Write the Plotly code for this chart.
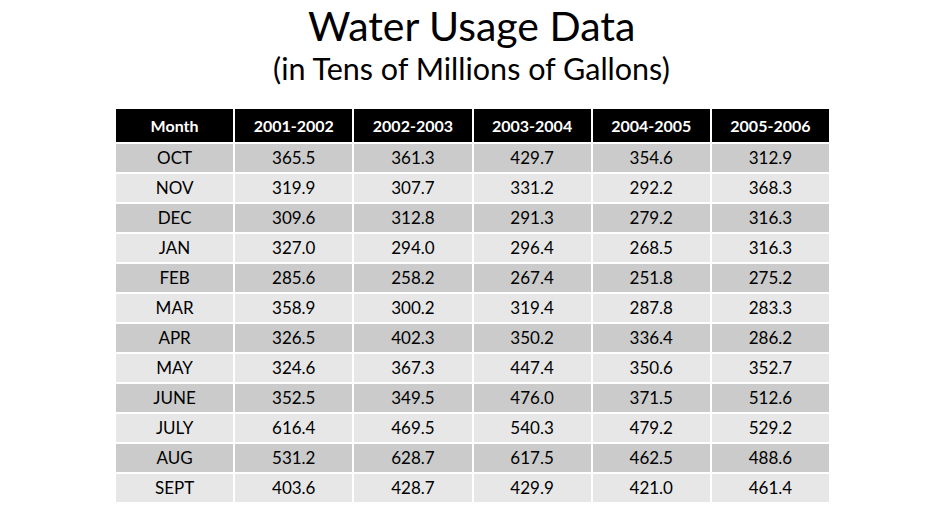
import plotly.graph_objects as go

months = ["OCT", "NOV", "DEC", "JAN", "FEB", "MAR", "APR", "MAY", "JUNE", "JULY", "AUG", "SEPT"]
headers = ["Month", "2001-2002", "2002-2003", "2003-2004", "2004-2005", "2005-2006"]
y2001 = [365.5, 319.9, 309.6, 327.0, 285.6, 358.9, 326.5, 324.6, 352.5, 616.4, 531.2, 403.6]
y2002 = [361.3, 307.7, 312.8, 294.0, 258.2, 300.2, 402.3, 367.3, 349.5, 469.5, 628.7, 428.7]
y2003 = [429.7, 331.2, 291.3, 296.4, 267.4, 319.4, 350.2, 447.4, 476.0, 540.3, 617.5, 429.9]
y2004 = [354.6, 292.2, 279.2, 268.5, 251.8, 287.8, 336.4, 350.6, 371.5, 479.2, 462.5, 421.0]
y2005 = [312.9, 368.3, 316.3, 316.3, 275.2, 283.3, 286.2, 352.7, 512.6, 529.2, 488.6, 461.4]

W, H = 943, 530
fmt = lambda col: [f"{v:.1f}" for v in col]
row_colors = ["#cbcbcb" if i % 2 == 0 else "#e7e7e7" for i in range(len(months))]
FONT = "Lato"

fig = go.Figure(go.Table(
    domain=dict(x=[115 / W, 830 / W], y=[0, 1 - 108 / H]),
    columnwidth=[1] * 6,
    header=dict(
        values=[f"<b>{h}</b>" for h in headers],
        fill_color="black",
        line=dict(color="white", width=2),
        font=dict(family=FONT, size=16, color="white"),
        align="center",
        height=28,
    ),
    cells=dict(
        values=[months, fmt(y2001), fmt(y2002), fmt(y2003), fmt(y2004), fmt(y2005)],
        fill_color=[row_colors] * 6,
        line=dict(color="white", width=2),
        font=dict(family=FONT, size=17, color="black"),
        align="center",
        height=30,
    ),
))

fig.add_annotation(text="Water Usage Data", x=0.5, y=1 - 26 / H, xref="paper", yref="paper",
                   yanchor="middle", showarrow=False, font=dict(family=FONT, size=41, color="black"))
fig.add_annotation(text="(in Tens of Millions of Gallons)", x=0.5, y=1 - 68 / H, xref="paper", yref="paper",
                   yanchor="middle", showarrow=False, font=dict(family=FONT, size=30.5, color="black"))

fig.update_layout(width=W, height=H, margin=dict(l=0, r=0, t=0, b=0),
                  paper_bgcolor="white", plot_bgcolor="white")
fig.write_html("out.html", post_script="document.body.style.margin='0';",
               config={"displayModeBar": False})
